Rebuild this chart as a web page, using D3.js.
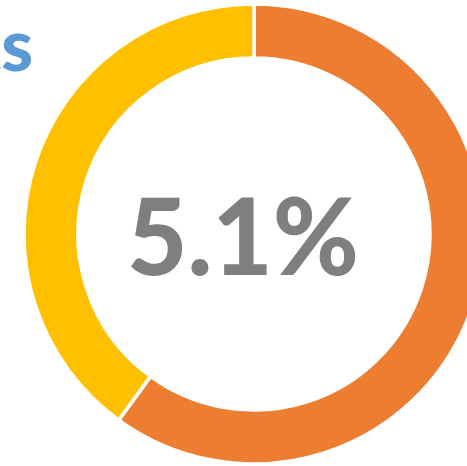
<!DOCTYPE html>
<html>
<head>
<meta charset="utf-8">
<script src="https://cdn.jsdelivr.net/npm/d3@7"></script>
<style>
  html, body { margin: 0; padding: 0; background: #fff; overflow: hidden; }
  svg { display: block; }
</style>
</head>
<body>
<svg id="chart" width="467" height="466"></svg>
<script>
// Ring segments, drawn clockwise from 12 o'clock
const segments = ["Share", "Rest"];
const values = [60, 40];
const colors = ["#ED7D31", "#FFC000"];
const centerLabel = "5.1%";
const titleText = "ts";

const svg = d3.select("#chart");
const cx = 254, cy = 234, outerR = 230, innerR = 176;

const pie = d3.pie().sort(null).value(d => d)(values);
const arc = d3.arc().innerRadius(innerR).outerRadius(outerR);
const color = d3.scaleOrdinal().domain(segments).range(colors);

const g = svg.append("g").attr("transform", `translate(${cx},${cy})`);
g.selectAll("path")
  .data(pie)
  .join("path")
  .attr("d", arc)
  .attr("fill", (d, i) => color(segments[i]))
  .attr("stroke", "#fff")
  .attr("stroke-width", 3.5);

// Value in the middle of the ring, fitted to a fixed width
const label = g.append("text")
  .attr("x", 0)
  .attr("y", 41)
  .attr("text-anchor", "middle")
  .attr("font-family", "Lato, 'Open Sans', sans-serif")
  .attr("font-weight", 900)
  .attr("font-size", 106)
  .attr("fill", "#7F7F7F")
  .text(centerLabel);
const bb = label.node().getBBox();
const targetW = 232, targetCx = -11;
const sx = targetW / bb.width;
label.attr("transform",
  `translate(${targetCx - sx * (bb.x + bb.width / 2)},0) scale(${sx},1)`);

// Title, running off the left edge
svg.append("text")
  .attr("x", 33)
  .attr("y", 71)
  .attr("text-anchor", "end")
  .attr("font-family", "Lato, 'Open Sans', sans-serif")
  .attr("font-weight", 900)
  .attr("font-size", 72)
  .attr("fill", "#5B9BD5")
  .text(titleText);
</script>
</body>
</html>
